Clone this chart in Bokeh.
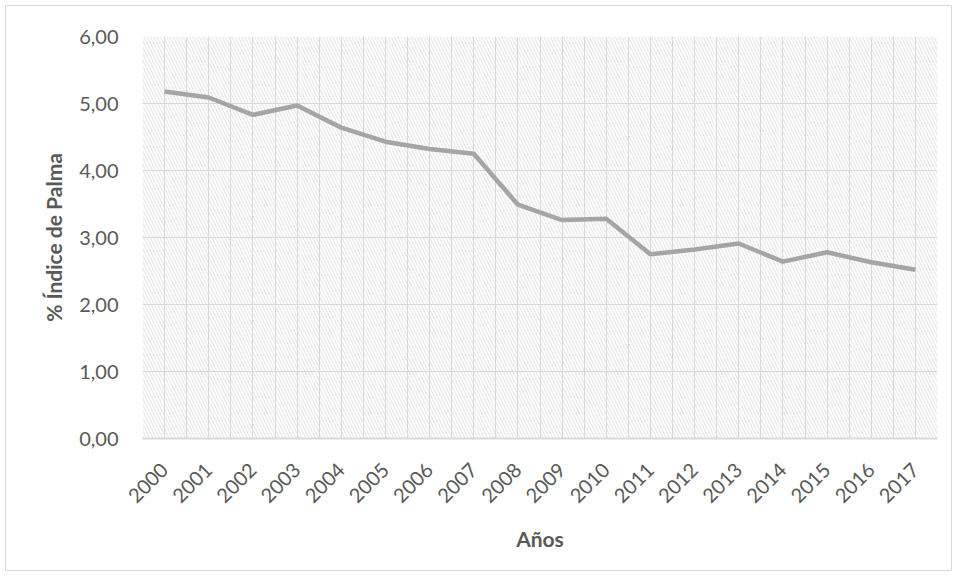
import math
from bokeh.plotting import figure
from bokeh.models import (FactorRange, Range1d, Grid, FixedTicker, BoxAnnotation,
                          CustomJSTickFormatter)
from bokeh.embed import file_html
from bokeh.resources import INLINE

years = ["2000", "2001", "2002", "2003", "2004", "2005", "2006", "2007", "2008",
         "2009", "2010", "2011", "2012", "2013", "2014", "2015", "2016", "2017"]
palma = [5.18, 5.09, 4.83, 4.97, 4.64, 4.43, 4.32, 4.25, 3.49,
         3.26, 3.28, 2.75, 2.82, 2.91, 2.64, 2.78, 2.63, 2.52]
y_ticks = [0, 1, 2, 3, 4, 5, 6]

FONT = "Lato"
TXT = "#595959"
GRID = "#d9d9d9"

p = figure(x_range=FactorRange(*years, range_padding=0), y_range=Range1d(0, 6),
           frame_width=795, frame_height=402,
           min_border_left=136, min_border_right=14, min_border_top=30, min_border_bottom=132,
           output_backend="svg", toolbar_location=None)
p.margin = (5, 0, 0, 5)
p.styles = {"border": "1px solid #d9d9d9"}
p.outline_line_color = None
p.background_fill_color = "white"
p.border_fill_color = "white"

# hatched plot area
hatch = BoxAnnotation(fill_alpha=0, line_alpha=0, hatch_pattern="\\", hatch_color="#e2e2e2",
                      hatch_scale=6.5, hatch_weight=1, level="image")
p.add_layout(hatch)

# grids
p.xgrid.visible = False
p.ygrid.ticker = FixedTicker(ticks=y_ticks)
p.ygrid.grid_line_color = GRID
p.ygrid.grid_line_width = 1
vgrid = Grid(dimension=0, ticker=FixedTicker(ticks=[i * 0.5 for i in range(0, 37)]),
             grid_line_color=GRID, grid_line_width=1)
p.add_layout(vgrid)

p.line(years, palma, line_color="#a5a5a5", line_width=4.5)

# y axis
p.yaxis.ticker = FixedTicker(ticks=y_ticks)
p.yaxis.formatter = CustomJSTickFormatter(code="return tick.toFixed(2).replace('.', ',');")
p.yaxis.axis_line_color = None
p.yaxis.major_tick_line_color = None
p.yaxis.minor_tick_line_color = None
p.yaxis.major_label_standoff = 18
p.yaxis.major_label_text_font = FONT
p.yaxis.major_label_text_font_size = "20px"
p.yaxis.major_label_text_color = TXT
p.yaxis.axis_label = "% Índice de Palma"
p.yaxis.axis_label_text_font = FONT
p.yaxis.axis_label_text_font_size = "21px"
p.yaxis.axis_label_text_font_style = "bold"
p.yaxis.axis_label_text_color = TXT
p.yaxis.axis_label_standoff = 10

# x axis
p.xaxis.axis_line_color = GRID
p.xaxis.axis_line_width = 2
p.xaxis.major_tick_line_color = None
p.xaxis.minor_tick_line_color = None
p.xaxis.major_label_orientation = math.pi / 4
p.xaxis.major_label_standoff = 22
p.xaxis.major_label_text_font = FONT
p.xaxis.major_label_text_font_size = "20px"
p.xaxis.major_label_text_color = TXT
p.xaxis.axis_label = "Años"
p.xaxis.axis_label_text_font = FONT
p.xaxis.axis_label_text_font_size = "21px"
p.xaxis.axis_label_text_font_style = "bold"
p.xaxis.axis_label_text_color = TXT
p.xaxis.axis_label_standoff = 14

open("out.html", "w").write(file_html(p, INLINE))
